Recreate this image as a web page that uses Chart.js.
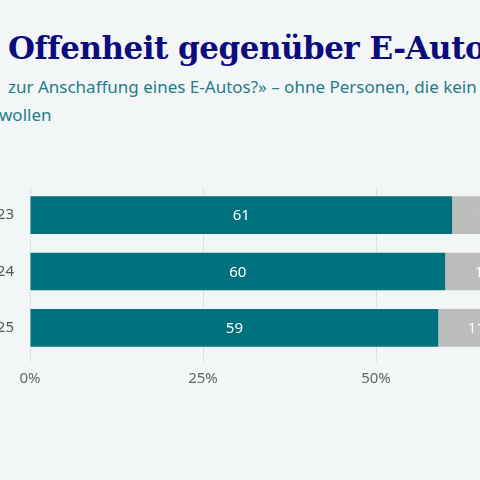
<!DOCTYPE html>
<html><head><meta charset="utf-8">
<script src="https://cdn.jsdelivr.net/npm/chart.js@4"></script>
<style>
html,body{margin:0;padding:0;background:#f3f6f6;width:480px;height:480px;overflow:hidden;position:relative}
#t{position:absolute;left:8px;top:30px;font:bold 31px "DejaVu Serif",serif;color:#0c0c7e;white-space:nowrap;letter-spacing:-0.5px}
#s1{position:absolute;left:8px;top:75px;font:17px "Noto Sans",sans-serif;color:#1f7d86;white-space:nowrap}
#s2{position:absolute;left:-1px;top:103px;font:17px "Noto Sans",sans-serif;color:#1f7d86;white-space:nowrap}
#c{position:absolute;left:-60px;top:170px;width:820px;height:226px}
</style></head><body>
<div id="t">Offenheit gegenüber E-Autos sinkt</div>
<div id="s1">zur Anschaffung eines E-Autos?» – ohne Personen, die kein Auto</div>
<div id="s2">wollen</div>
<div id="c"><canvas id="cv"></canvas></div>
<script>
const years = ["2023","2024","2025"];
const ja = [61,60,59];
const weissNicht = [10,11,11];
const nein = [29,29,30];
const labelsPlugin={id:'lbl',afterDatasetsDraw(ch){const ctx=ch.ctx;ctx.save();ctx.fillStyle='#fff';ctx.font='15px "Noto Sans",sans-serif';ctx.textAlign='center';ctx.textBaseline='middle';
ch.data.datasets.forEach((ds,i)=>{ch.getDatasetMeta(i).data.forEach((b,j)=>{const x=(b.x+b.base)/2;ctx.fillText(ds.data[j],x,b.y+1);});});ctx.restore();}};
new Chart(document.getElementById('cv'),{type:'bar',
data:{labels:years,datasets:[
{label:'Ja',data:ja,backgroundColor:'#00717d'},
{label:'Weiss nicht',data:weissNicht,backgroundColor:'#bdbdbd'},
{label:'Nein',data:nein,backgroundColor:'#a6202e'}]},
options:{indexAxis:'y',responsive:true,maintainAspectRatio:false,animation:false,
layout:{padding:{top:7,right:38,left:0,bottom:0}},
datasets:{bar:{barPercentage:0.67,categoryPercentage:1}},
plugins:{legend:{display:false},tooltip:{enabled:false}},
scales:{
x:{stacked:true,min:0,max:100,ticks:{stepSize:25,callback:v=>v+'%',color:'#666',font:{size:15,family:'"Noto Sans",sans-serif'},padding:8},
grid:{color:'#dcdfe0',drawTicks:true,tickLength:6},border:{display:false},afterFit(s){s.height=40;}},
y:{stacked:true,ticks:{color:'#555',font:{size:15,family:'"Noto Sans",sans-serif'},padding:8},grid:{display:false},border:{display:false},afterFit(s){s.width=90;}}}},
plugins:[labelsPlugin]});
</script></body></html>
